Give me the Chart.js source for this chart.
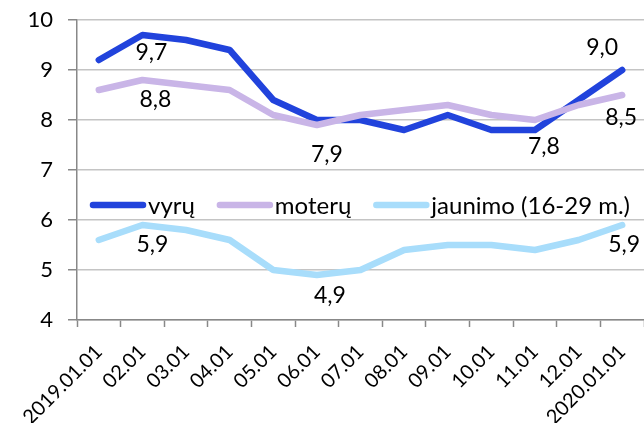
<!DOCTYPE html>
<html><head><meta charset="utf-8">
<script src="https://cdn.jsdelivr.net/npm/chart.js@4"></script>
<style>html,body{margin:0;padding:0;background:#fff}#wrap{width:644px;height:423px}</style>
</head><body><div id="wrap"><canvas id="c" width="644" height="423"></canvas></div>
<script>
const categories = ['2019.01.01','02.01','03.01','04.01','05.01','06.01','07.01','08.01','09.01','10.01','11.01','12.01','2020.01.01'];
const vyru    = [9.2, 9.7, 9.6, 9.4, 8.4, 8.0, 8.0, 7.8, 8.1, 7.8, 7.8, 8.4, 9.0];
const moteru  = [8.6, 8.8, 8.7, 8.6, 8.1, 7.9, 8.1, 8.2, 8.3, 8.1, 8.0, 8.3, 8.5];
const jaunimo = [5.6, 5.9, 5.8, 5.6, 5.0, 4.9, 5.0, 5.4, 5.5, 5.5, 5.4, 5.6, 5.9];
const seriesNames = ['vyrų', 'moterų', 'jaunimo (16-29 m.)'];
const yTicks = [4, 5, 6, 7, 8, 9, 10];
// which points carry a value label: [series, index]
const labelledPoints = [[0,1],[1,1],[1,5],[0,10],[0,12],[1,12],[2,1],[2,5],[2,12]];

const FONT = 'Lato';
const colors = ['#2143dc', '#c9b5e7', '#a8ddfb'];
// label placement offsets (dx, dy) in pixels, same order as labelledPoints
const labelOffsets = [[9,18],[13,20],[10,30],[9,17],[-20,-22],[-1,23],[10,20],[13,21],[2,20]];

const fmt = v => v.toFixed(1).replace('.', ',');

const overlay = {
  id: 'overlay',
  afterDatasetsDraw(chart) {
    const ctx = chart.ctx;
    ctx.save();
    ctx.font = '23px ' + FONT;
    ctx.fillStyle = '#000';
    ctx.textAlign = 'center';
    ctx.textBaseline = 'middle';
    labelledPoints.forEach(([s, i], k) => {
      const el = chart.getDatasetMeta(s).data[i];
      const v = chart.data.datasets[s].data[i];
      ctx.fillText(fmt(v), el.x + labelOffsets[k][0], el.y + labelOffsets[k][1]);
    });
    // legend inside plot
    ctx.font = '24px ' + FONT;
    const ly = chart.scales.y.getPixelForValue(6.3);
    let x = 90;
    ctx.textAlign = 'left';
    chart.data.datasets.forEach((ds, d) => {
      ctx.strokeStyle = ds.borderColor;
      ctx.lineWidth = 6.5;
      ctx.lineCap = 'round';
      ctx.beginPath();
      ctx.moveTo(x + 3, ly);
      ctx.lineTo(x + 53, ly);
      ctx.stroke();
      x += 58;
      ctx.fillText(ds.label, x, ly + 1);
      x += ctx.measureText(ds.label).width + 22;
    });
    ctx.restore();
  }
};

new Chart(document.getElementById('c'), {
  type: 'line',
  data: {
    labels: categories,
    datasets: [vyru, moteru, jaunimo].map((arr, d) => ({
      label: seriesNames[d],
      data: arr,
      borderColor: colors[d],
      backgroundColor: colors[d],
      borderWidth: 6.5,
      pointRadius: 0,
      tension: 0,
      borderCapStyle: 'round',
      borderJoinStyle: 'round',
      order: 3 - d
    }))
  },
  options: {
    responsive: false,
    animation: false,
    devicePixelRatio: 1,
    layout: { padding: { top: 20, right: 0, left: 0, bottom: 0 } },
    plugins: { legend: { display: false }, tooltip: { enabled: false } },
    scales: {
      x: {
        offset: true,
        grid: { display: true, drawOnChartArea: false, offset: true, tickLength: 7, tickColor: '#888', tickWidth: 1.5 },
        border: { color: '#888', width: 1.5 },
        ticks: { color: '#000', font: { family: FONT, size: 20 }, minRotation: 45, maxRotation: 45, autoSkip: false, padding: 13 },
        afterFit(s) { s.height = 103; s.paddingLeft = 0; s.paddingRight = 0; }
      },
      y: {
        min: 4, max: 10,
        afterBuildTicks(s) { s.ticks = yTicks.map(v => ({ value: v })); },
        grid: { color: '#c4c4c4', lineWidth: 1.5, tickLength: 9, tickColor: '#888', tickWidth: 1.5 },
        border: { color: '#888', width: 1.5 },
        ticks: { color: '#000', font: { family: FONT, size: 22 }, padding: 15 },
        afterFit(s) { s.width = 77; s.paddingTop = 0; s.paddingBottom = 0; }
      }
    }
  },
  plugins: [overlay]
});
</script>
</body></html>
